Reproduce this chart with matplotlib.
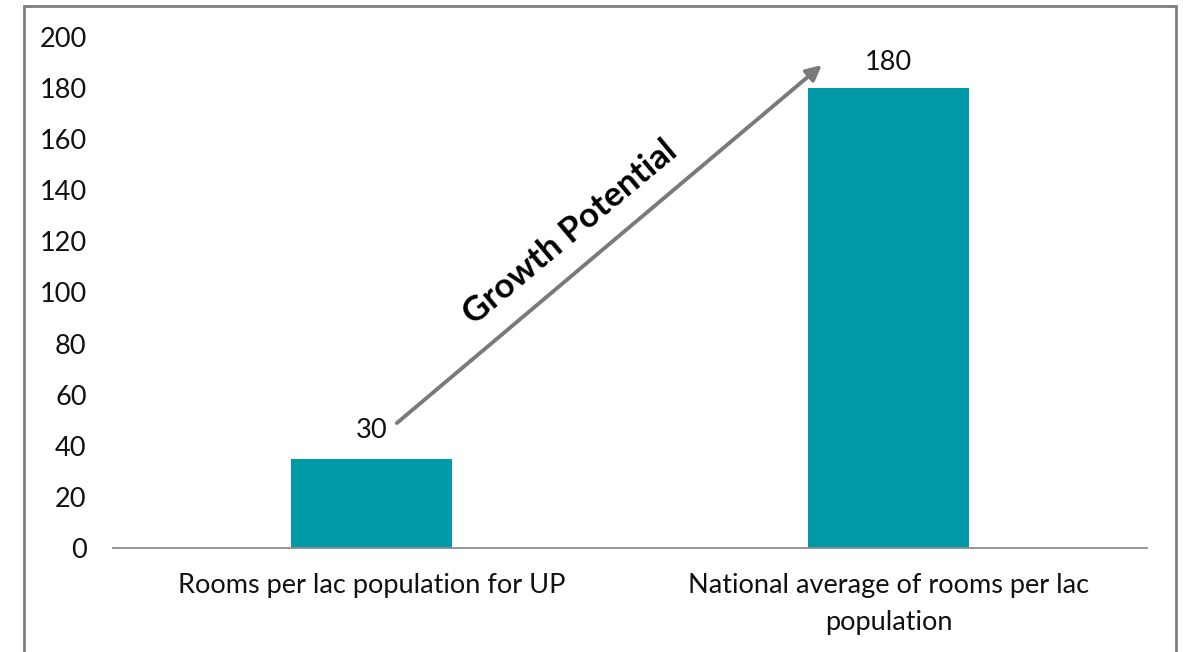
import matplotlib
matplotlib.use("Agg")
import matplotlib.pyplot as plt
from matplotlib.patches import Rectangle

categories = ["Rooms per lac population for UP", "National average of rooms per lac\npopulation"]
bar_values = [35, 180]
bar_labels = ["30", "180"]
yticks = [0, 20, 40, 60, 80, 100, 120, 140, 160, 180, 200]

plt.rcParams['font.family'] = ['Lato', 'DejaVu Sans']
W, H = 1183, 652
fig = plt.figure(figsize=(W/100, H/100), dpi=100)
ax = fig.add_axes([113/W, 1-548/H, (1147-113)/W, (548-37)/H])

fs = 19.5
color = "#0099A8"
x = list(range(len(categories)))
ax.bar(x, bar_values, width=0.313, color=color)
ax.set_xlim(-0.5, 1.5)
ax.set_ylim(0, 200)
ax.set_yticks(yticks)
ax.set_xticks(x)
ax.set_xticklabels(categories, fontsize=fs, color="#111111", linespacing=1.62)
ax.tick_params(axis='both', length=0, labelsize=fs, colors="#111111")
ax.tick_params(axis='y', pad=19)
ax.tick_params(axis='x', pad=18)
for s in ["top", "right", "left"]:
    ax.spines[s].set_visible(False)
ax.spines["bottom"].set_color("#8c8c8c")
ax.spines["bottom"].set_linewidth(1.3)

label_y = [46, 190]
for xi, lab, ly in zip(x, bar_labels, label_y):
    ax.text(xi, ly, lab, ha="center", va="center", fontsize=fs, color="#111111")

ax.annotate("", xy=(0.871, 189), xytext=(0.049, 48.9),
            arrowprops=dict(arrowstyle="-|>,head_length=0.9,head_width=0.45",
                            color="#7a7a7a", lw=2.8, shrinkA=0, shrinkB=0))
ax.text(0.384, 123.5, "Growth Potential", rotation=39.9, rotation_mode="anchor",
        ha="center", va="center", fontsize=25, fontweight="bold", color="black")

fig.patches.append(Rectangle((24/W, -0.05), (1176-24)/W, 1.05-6/H,
                             transform=fig.transFigure, fill=False,
                             edgecolor="#7f7f7f", linewidth=2))
fig.savefig("out.png", dpi=100)
